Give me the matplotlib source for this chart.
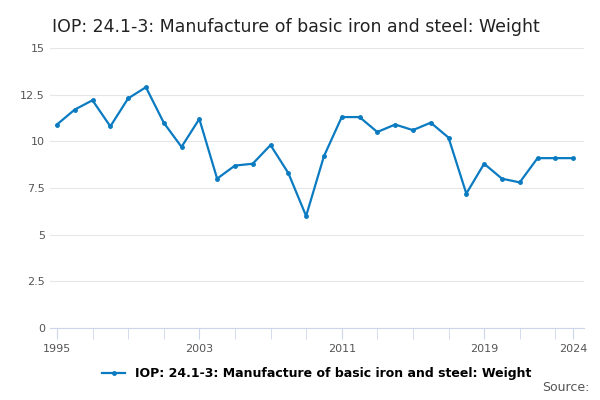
import matplotlib
matplotlib.use('Agg')
import matplotlib.pyplot as plt

years = list(range(1995, 2025))
values = [10.9, 11.7, 12.2, 10.8, 12.3, 12.9, 11.0, 9.7, 11.2, 8.0,
          8.7, 8.8, 9.8, 8.3, 6.0, 9.2, 11.3, 11.3, 10.5, 10.9,
          10.6, 11.0, 10.2, 7.2, 8.8, 8.0, 7.8, 9.1, 9.1, 9.1]
label = 'IOP: 24.1-3: Manufacture of basic iron and steel: Weight'
blue = '#0b7bc1'

fig = plt.figure(figsize=(6, 4), dpi=100)
ax = fig.add_axes([0.083, 0.18, 0.89, 0.7])
ax.plot(years, values, color=blue, lw=1.6, marker='o', ms=2.5, label=label)

ax.set_ylim(0, 15)
ax.set_yticks([0, 2.5, 5, 7.5, 10, 12.5, 15])
ax.set_yticklabels(['0', '2.5', '5', '7.5', '10', '12.5', '15'])
ax.set_xlim(1994.6, 2024.6)
ax.set_xticks([1995, 2003, 2011, 2019, 2024])
ax.set_xticks(range(1997, 2024, 2), minor=True)
ax.grid(axis='y', color='#e6e6e6', lw=0.8)
for s in ['top', 'right', 'left']:
    ax.spines[s].set_visible(False)
ax.spines['bottom'].set_color('#ccd6eb')
ax.tick_params(axis='y', length=0, labelsize=8, colors='#555555')
ax.tick_params(axis='x', which='both', length=8, color='#ccd6eb', labelsize=8, colors='#555555')
ax.tick_params(axis='x', which='minor', labelbottom=False)

fig.text(0.087, 0.955, label, fontsize=12.5, va='top', color='#222222')
ax.legend(loc='upper center', bbox_to_anchor=(0.5, -0.1), frameon=False,
          handlelength=1.8, prop={'weight': 'bold', 'size': 9})
fig.text(0.982, 0.015, 'Source:', ha='right', va='bottom', fontsize=9, color='#555555')

fig.savefig('out.png')
